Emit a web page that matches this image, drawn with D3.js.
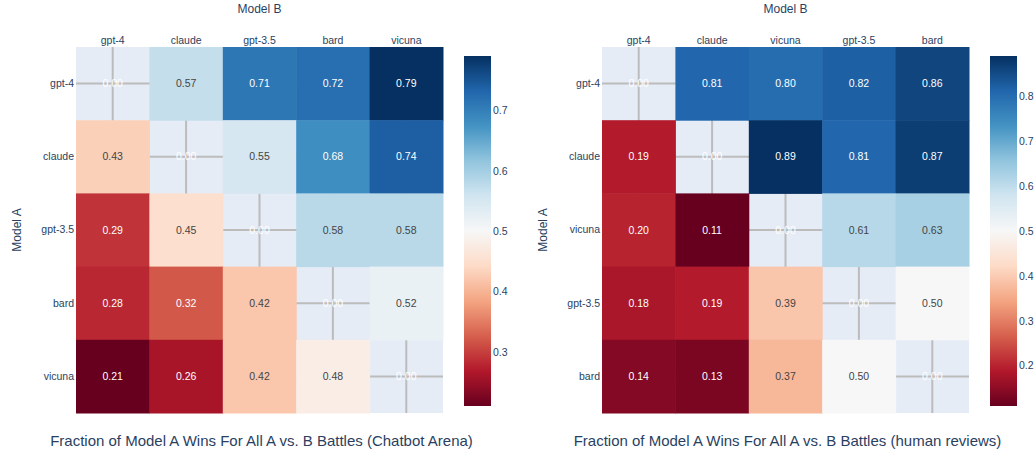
<!DOCTYPE html>
<html>
<head>
<meta charset="utf-8">
<script src="https://cdn.jsdelivr.net/npm/d3@7"></script>
<style>
  body { margin: 0; background: #fff; }
  svg text { font-family: "Liberation Sans", Arial, sans-serif; }
</style>
</head>
<body>
<svg id="chart" width="1034" height="454"></svg>
<script>
// Chatbot Arena panel
const arenaModels = ["gpt-4", "claude", "gpt-3.5", "bard", "vicuna"];
const arenaWins = [
    [null, 0.57, 0.71, 0.72, 0.79],
    [0.43, null, 0.55, 0.68, 0.74],
    [0.29, 0.45, null, 0.58, 0.58],
    [0.28, 0.32, 0.42, null, 0.52],
    [0.21, 0.26, 0.42, 0.48, null]
];
const arenaTicks = [0.3, 0.4, 0.5, 0.6, 0.7];
const arenaTitle = "Fraction of Model A Wins For All A vs. B Battles (Chatbot Arena)";

// human reviews panel
const humanModels = ["gpt-4", "claude", "vicuna", "gpt-3.5", "bard"];
const humanWins = [
    [null, 0.81, 0.80, 0.82, 0.86],
    [0.19, null, 0.89, 0.81, 0.87],
    [0.20, 0.11, null, 0.61, 0.63],
    [0.18, 0.19, 0.39, null, 0.50],
    [0.14, 0.13, 0.37, 0.50, null]
];
const humanTicks = [0.2, 0.3, 0.4, 0.5, 0.6, 0.7, 0.8];
const humanTitle = "Fraction of Model A Wins For All A vs. B Battles (human reviews)";

// colorbrewer RdBu stops, as plotly uses them
const rdbu = ["rgb(103,0,31)", "rgb(178,24,43)", "rgb(214,96,77)", "rgb(244,165,130)",
    "rgb(253,219,199)", "rgb(247,247,247)", "rgb(209,229,240)", "rgb(146,197,222)",
    "rgb(67,147,195)", "rgb(33,102,172)", "rgb(5,48,97)"];

const fontColor = "#2a3f5f";
const svg = d3.select("#chart");

function luminance(c) {
    const rgb = d3.rgb(c);
    const f = v => { v /= 255; return v <= 0.03928 ? v / 12.92 : Math.pow((v + 0.055) / 1.055, 2.4); };
    return 0.2126 * f(rgb.r) + 0.7152 * f(rgb.g) + 0.0722 * f(rgb.b);
}

function drawHeatmap(g, models, wins, ticks, title, box, id) {
    const x = d3.scaleBand().domain(models).range([box.left, box.right]);
    const y = d3.scaleBand().domain(models).range([box.top, box.bottom]);
    const vals = wins.flat().filter(v => v != null);
    const [zmin, zmax] = d3.extent(vals);
    const color = d3.scaleLinear()
        .domain(d3.range(rdbu.length).map(i => zmin + (zmax - zmin) * i / (rdbu.length - 1)))
        .range(rdbu)
        .interpolate(d3.interpolateRgb);

    // plot background and grid
    g.append("rect")
        .attr("x", box.left).attr("y", box.top)
        .attr("width", box.right - box.left).attr("height", box.bottom - box.top)
        .attr("fill", "#E5ECF6");
    g.selectAll(".vgrid").data(models).enter().append("line")
        .attr("x1", d => x(d) + x.bandwidth() / 2).attr("x2", d => x(d) + x.bandwidth() / 2)
        .attr("y1", box.top).attr("y2", box.bottom)
        .attr("stroke", "#bcbcbc").attr("stroke-width", 2);
    g.selectAll(".hgrid").data(models).enter().append("line")
        .attr("y1", d => y(d) + y.bandwidth() / 2).attr("y2", d => y(d) + y.bandwidth() / 2)
        .attr("x1", box.left).attr("x2", box.right)
        .attr("stroke", "#bcbcbc").attr("stroke-width", 2);

    const cells = [];
    wins.forEach((row, i) => row.forEach((v, j) => cells.push({a: models[i], b: models[j], v: v})));

    g.selectAll(".cell").data(cells.filter(d => d.v != null)).enter().append("rect")
        .attr("x", d => x(d.b)).attr("y", d => y(d.a))
        .attr("width", x.bandwidth() + 0.5).attr("height", y.bandwidth() + 0.5)
        .attr("fill", d => color(d.v));

    g.selectAll(".lbl").data(cells).enter().append("text")
        .attr("x", d => x(d.b) + x.bandwidth() / 2)
        .attr("y", d => y(d.a) + y.bandwidth() / 2)
        .attr("dy", "0.35em")
        .attr("text-anchor", "middle")
        .attr("font-size", 10.5)
        .attr("fill", d => d.v == null ? "#fff" : (luminance(color(d.v)) < 0.35 ? "#fff" : "#444"))
        .text(d => (d.v == null ? 0 : d.v).toFixed(2));

    // axes
    g.append("g")
        .attr("transform", `translate(0,${box.top})`)
        .call(d3.axisTop(x).tickSize(0).tickPadding(3))
        .call(a => a.select(".domain").remove())
        .call(a => a.selectAll("text").attr("font-size", 10.5).attr("fill", fontColor)
            .attr("font-family", null));
    g.append("g")
        .attr("transform", `translate(${box.left},0)`)
        .call(d3.axisLeft(y).tickSize(0).tickPadding(2))
        .call(a => a.select(".domain").remove())
        .call(a => a.selectAll("text").attr("font-size", 10.5).attr("fill", fontColor)
            .attr("font-family", null));

    g.append("text")
        .attr("x", (box.left + box.right) / 2).attr("y", 13)
        .attr("text-anchor", "middle").attr("font-size", 12).attr("fill", fontColor)
        .text("Model B");
    g.append("text")
        .attr("transform", `translate(${box.left - 55},${(box.top + box.bottom) / 2}) rotate(-90)`)
        .attr("text-anchor", "middle").attr("font-size", 12).attr("fill", fontColor)
        .text("Model A");
    g.append("text")
        .attr("x", (box.left + box.right) / 2 + 2).attr("y", 446)
        .attr("text-anchor", "middle").attr("font-size", 15).attr("fill", fontColor)
        .text(title);

    // colorbar
    const cb = {left: box.cbLeft, width: 27, top: 56, bottom: 406};
    const cy = d3.scaleLinear().domain([zmin, zmax]).range([cb.bottom, cb.top]);
    const grad = svg.select("defs").append("linearGradient")
        .attr("id", id).attr("x1", 0).attr("x2", 0).attr("y1", 1).attr("y2", 0);
    rdbu.forEach((c, i) => grad.append("stop")
        .attr("offset", i / (rdbu.length - 1)).attr("stop-color", c));
    g.append("rect")
        .attr("x", cb.left).attr("y", cb.top)
        .attr("width", cb.width).attr("height", cb.bottom - cb.top)
        .attr("fill", `url(#${id})`);
    g.append("g")
        .attr("transform", `translate(${cb.left + cb.width},0)`)
        .call(d3.axisRight(cy).tickValues(ticks).tickSize(0).tickPadding(2).tickFormat(d3.format(".1f")))
        .call(a => a.select(".domain").remove())
        .call(a => a.selectAll("text").attr("font-size", 10.5).attr("fill", fontColor)
            .attr("font-family", null));
}

svg.append("defs");
drawHeatmap(svg.append("g"), arenaModels, arenaWins, arenaTicks, arenaTitle,
    {left: 76, right: 443, top: 47, bottom: 413, cbLeft: 464}, "cbArena");
drawHeatmap(svg.append("g"), humanModels, humanWins, humanTicks, humanTitle,
    {left: 602, right: 969, top: 47, bottom: 413, cbLeft: 990}, "cbHuman");
</script>
</body>
</html>
